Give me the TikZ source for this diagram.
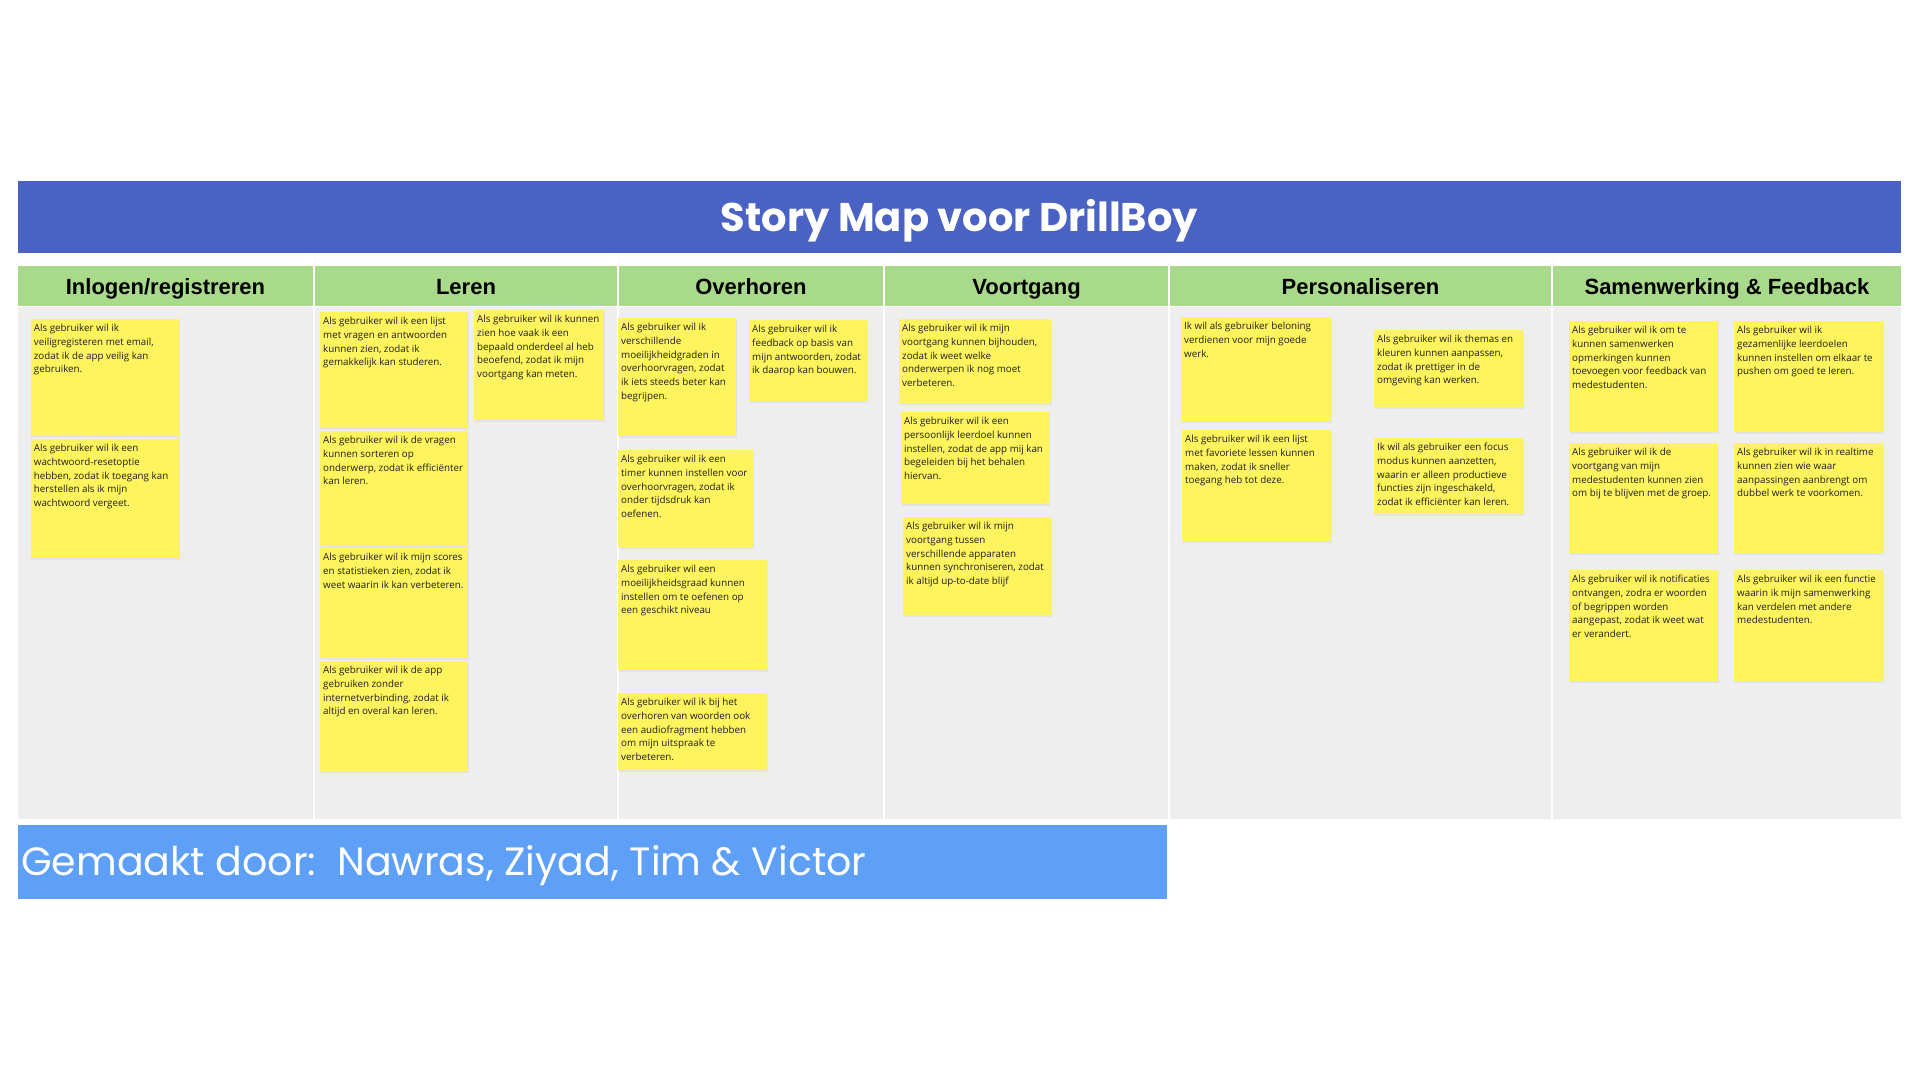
\documentclass[tikz,border=0pt]{standalone}
\usepackage{fontspec}
\newfontfamily\notefont{Open Sans}
\newfontfamily\headfont{Liberation Sans}
\newfontfamily\titlefont{Poppins}
\newfontfamily\footfont{Poppins}
\definecolor{titleblue}{HTML}{4A62C3}
\definecolor{headgreen}{HTML}{A9D98B}
\definecolor{bodygray}{HTML}{EEEEEE}
\definecolor{stickyyellow}{HTML}{FFF45D}
\definecolor{footblue}{HTML}{5E9FF8}
\tikzset{
  titlebar/.style={fill=titleblue},
  footbar/.style={fill=footblue},
  colhead/.style={fill=headgreen},
  colbody/.style={fill=bodygray},
  stickybox/.style={fill=stickyyellow},
  stickyshadow/.style={fill=black!11},
  stickytext/.style={font=\notefont\fontsize{9.8}{13.7}\selectfont, align=left, inner sep=0pt, anchor=north west, text=black!88},
  headtext/.style={font=\headfont\bfseries\fontsize{22}{26}\selectfont, text=black, inner sep=0pt, anchor=base},
  titletext/.style={font=\titlefont\bfseries\fontsize{40}{46}\selectfont, text=white, inner sep=0pt, anchor=base},
  foottext/.style={font=\footfont\fontsize{39.5}{46}\selectfont, text=white, inner sep=0pt, anchor=base west},
}
\newcommand\sticky[6]{%
  \fill[stickyshadow] (#2+0.5,#3+1.5) rectangle (#4+0.5,#5+1.5);
  \fill[stickybox] (#2,#3) rectangle (#4,#5);
  \node[stickytext] (#1) at (#2+3,#3+5) {#6};}
\begin{document}
\begin{tikzpicture}[x=1pt,y=-1pt]
\useasboundingbox (0,0) rectangle (1920,1080);
\fill[white] (0,0) rectangle (1920,1080);
% title
\fill[titlebar] (18,181) rectangle (1901,253);
\node[titletext] (title) at (959.5,231) {Story Map voor DrillBoy};
% columns
\foreach \xa/\xb in {18/313,315/617,619/883,885/1168,1170/1551,1553/1901}{
  \fill[colhead] (\xa,266) rectangle (\xb,306);
  \fill[colbody] (\xa,307) rectangle (\xb,819);
}
\node[headtext] (h1) at (165.5,294) {Inlogen/registreren};
\node[headtext] (h2) at (466,294) {Leren};
\node[headtext] (h3) at (751,294) {Overhoren};
\node[headtext] (h4) at (1026.5,294) {Voortgang};
\node[headtext] (h5) at (1360.5,294) {Personaliseren};
\node[headtext] (h6) at (1727,294) {Samenwerking \& Feedback};
% column 1
\sticky{n1}{30.7}{319}{179.7}{436}{Als gebruiker wil ik\\veiligregisteren met email,\\zodat ik de app veilig kan\\gebruiken.}
\sticky{n2}{30.7}{439}{179.7}{558}{Als gebruiker wil ik een\\wachtwoord-resetoptie\\hebben, zodat ik toegang kan\\herstellen als ik mijn\\wachtwoord vergeet.}
% column 2
\sticky{n3}{320}{312}{468}{428}{Als gebruiker wil ik een lijst\\met vragen en antwoorden\\kunnen zien, zodat ik\\gemakkelijk kan studeren.}
\sticky{n4}{474}{310}{604}{420}{Als gebruiker wil ik kunnen\\zien hoe vaak ik een\\bepaald onderdeel al heb\\beoefend, zodat ik mijn\\voortgang kan meten.}
\sticky{n5}{320}{431}{468}{546}{Als gebruiker wil ik de vragen\\kunnen sorteren op\\onderwerp, zodat ik efficiënter\\kan leren.}
\sticky{n6}{320}{548}{468}{658}{Als gebruiker wil ik mijn scores\\en statistieken zien, zodat ik\\weet waarin ik kan verbeteren.}
\sticky{n7}{320}{661}{468}{771}{Als gebruiker wil ik de app\\gebruiken zonder\\internetverbinding, zodat ik\\altijd en overal kan leren.}
% column 3
\sticky{n8}{618}{318}{736}{436}{Als gebruiker wil ik\\verschillende\\moeilijkheidgraden in\\overhoorvragen, zodat\\ik iets steeds beter kan\\begrijpen.}
\sticky{n9}{749}{320}{867}{401}{Als gebruiker wil ik\\feedback op basis van\\mijn antwoorden, zodat\\ik daarop kan bouwen.}
\sticky{n10}{618}{450}{753}{547}{Als gebruiker wil ik een\\timer kunnen instellen voor\\overhoorvragen, zodat ik\\onder tijdsdruk kan\\oefenen.}
\sticky{n11}{618}{560}{767}{670}{Als gebruiker wil een\\moeilijkheidsgraad kunnen\\instellen om te oefenen op\\een geschikt niveau}
\sticky{n12}{618}{693}{767}{770}{Als gebruiker wil ik bij het\\overhoren van woorden ook\\een audiofragment hebben\\om mijn uitspraak te\\verbeteren.}
% column 4
\sticky{n13}{899}{319}{1051}{403}{Als gebruiker wil ik mijn\\voortgang kunnen bijhouden,\\zodat ik weet welke\\onderwerpen ik nog moet\\verbeteren.}
\sticky{n14}{901}{412}{1049}{504}{Als gebruiker wil ik een\\persoonlijk leerdoel kunnen\\instellen, zodat de app mij kan\\begeleiden bij het behalen\\hiervan.}
\sticky{n15}{903}{517}{1051}{615}{Als gebruiker wil ik mijn\\voortgang tussen\\verschillende apparaten\\kunnen synchroniseren, zodat\\ik altijd up-to-date blijf}
% column 5
\sticky{n16}{1181}{317}{1331}{421}{Ik wil als gebruiker beloning\\verdienen voor mijn goede\\werk.}
\sticky{n17}{1182}{430}{1331}{541}{Als gebruiker wil ik een lijst\\met favoriete lessen kunnen\\maken, zodat ik sneller\\toegang heb tot deze.}
\sticky{n18}{1374}{330}{1523}{407}{Als gebruiker wil ik themas en\\kleuren kunnen aanpassen,\\zodat ik prettiger in de\\omgeving kan werken.}
\sticky{n19}{1374}{438}{1523}{514}{Ik wil als gebruiker een focus\\modus kunnen aanzetten,\\waarin er alleen productieve\\functies zijn ingeschakeld,\\zodat ik efficiënter kan leren.}
% column 6
\sticky{n20}{1569}{321}{1718}{432}{Als gebruiker wil ik om te\\kunnen samenwerken\\opmerkingen kunnen\\toevoegen voor feedback van\\medestudenten.}
\sticky{n21}{1734}{321}{1883}{432}{Als gebruiker wil ik\\gezamenlijke leerdoelen\\kunnen instellen om elkaar te\\pushen om goed te leren.}
\sticky{n22}{1569}{443}{1718}{553}{Als gebruiker wil ik de\\voortgang van mijn\\medestudenten kunnen zien\\om bij te blijven met de groep.}
\sticky{n23}{1734}{443}{1883}{553}{Als gebruiker wil ik in realtime\\kunnen zien wie waar\\aanpassingen aanbrengt om\\dubbel werk te voorkomen.}
\sticky{n24}{1569}{570}{1718}{681}{Als gebruiker wil ik notificaties\\ontvangen, zodra er woorden\\of begrippen worden\\aangepast, zodat ik weet wat\\er verandert.}
\sticky{n25}{1734}{570}{1883}{681}{Als gebruiker wil ik een functie\\waarin ik mijn samenwerking\\kan verdelen met andere\\medestudenten.}
% footer
\fill[footbar] (18,825) rectangle (1167,899);
\node[foottext] (foot) at (21,875) {Gemaakt door:\ \ Nawras, Ziyad, Tim \& Victor};
\end{tikzpicture}
\end{document}
